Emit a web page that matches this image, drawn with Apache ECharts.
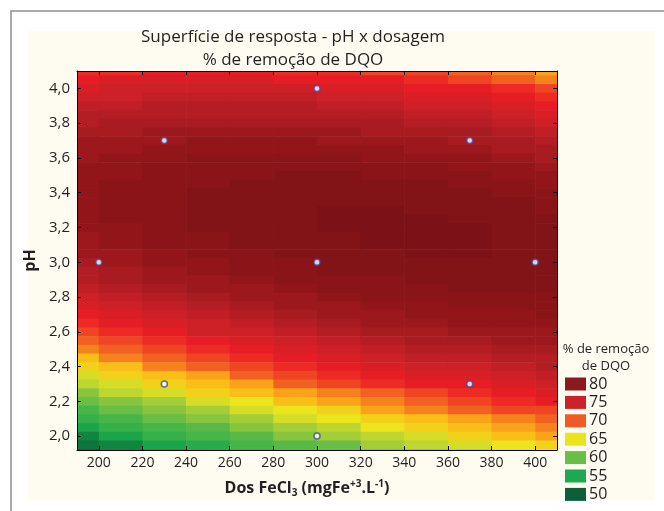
<!DOCTYPE html>
<html>
<head>
<meta charset="utf-8">
<script src="https://cdn.jsdelivr.net/npm/echarts@6/dist/echarts.min.js"></script>
<style>
html,body{margin:0;padding:0;background:#ffffff;}
#chart{width:664px;height:511px;}
</style>
</head>
<body>
<div id="chart"></div>
<script>
// ---- data ----
const doseColumns = [190, 210, 230, 250, 270, 290, 310, 330, 350, 370, 390, 410];
const phRows = [4.10, 4.05, 4.00, 3.95, 3.90, 3.85, 3.80, 3.75, 3.70, 3.65, 3.60, 3.55, 3.50, 3.45, 3.40,
                3.35, 3.30, 3.25, 3.20, 3.15, 3.10, 3.05, 3.00, 2.95, 2.90, 2.85, 2.80, 2.75, 2.70, 2.65,
                2.60, 2.55, 2.50, 2.45, 2.40, 2.35, 2.30, 2.25, 2.20, 2.15, 2.10, 2.05, 2.00, 1.95, 1.90];
// % de remoção de DQO, one array per dose column, values listed along phRows
const removal190 = [72,73,74,75,76, 77,77,78,79,79, 79,80,80,80,80, 80,80,80,80,79, 79,79,78,77,77, 76,75,74,73,72, 71,70,69,67,66, 64,63,61,60,58, 57,55,53,52,50];
const removal210 = [72,74,75,75,76, 77,78,78,79,79, 80,80,80,81,81, 81,81,81,80,80, 80,79,79,78,78, 77,76,75,74,73, 72,71,70,69,67, 66,64,63,61,60, 58,57,55,53,52];
const removal230 = [73,74,75,76,77, 77,78,79,79,80, 80,81,81,81,81, 81,81,81,81,81, 81,80,80,79,79, 78,77,76,75,74, 73,72,71,70,69, 67,66,64,62,61, 60,58,57,55,53];
const removal250 = [73,74,75,76,77, 77,78,79,80,80, 81,81,81,81,82, 82,82,82,82,81, 81,81,80,80,79, 79,78,77,76,75, 75,73,72,71,70, 68,67,66,64,62, 61,59,58,56,55];
const removal270 = [73,74,75,76,77, 77,78,79,80,80, 81,81,81,82,82, 82,82,82,82,82, 82,81,81,81,80, 79,79,78,77,76, 75,74,73,72,71, 70,68,67,65,64, 62,61,59,58,56];
const removal290 = [72,73,75,76,77, 77,78,79,80,80, 81,81,82,82,82, 82,82,82,82,82, 82,82,81,81,81, 80,79,79,78,77, 76,75,74,73,72, 71,70,68,67,65, 64,62,61,59,58];
const removal310 = [72,73,74,75,76, 77,78,79,79,80, 81,81,82,82,82, 82,83,83,83,82, 82,82,82,82,81, 81,80,79,79,78, 77,76,75,74,73, 72,71,69,68,66, 65,63,62,60,59];
const removal330 = [71,73,74,75,76, 77,78,78,79,80, 80,81,81,82,82, 82,83,83,83,83, 83,82,82,82,81, 81,81,80,79,79, 78,77,76,75,74, 73,72,70,69,68, 66,65,63,62,60];
const removal350 = [71,72,73,74,75, 76,77,78,79,79, 80,81,81,82,82, 82,82,83,83,83, 83,83,82,82,82, 81,81,80,80,79, 78,78,77,76,75, 74,73,71,70,69, 67,66,64,63,61];
const removal370 = [70,71,73,74,75, 76,77,78,78,79, 80,80,81,81,82, 82,82,82,83,83, 83,83,82,82,82, 82,81,81,80,80, 79,78,77,76,75, 74,73,72,71,70, 68,67,66,64,62];
const removal390 = [69,70,72,73,74, 75,76,77,78,78, 79,80,80,81,81, 82,82,82,82,82, 82,82,82,82,82, 82,81,81,80,80, 79,79,78,77,76, 75,74,73,72,71, 69,68,67,65,64];
const removal410 = [68,69,71,72,73, 74,75,76,77,78, 78,79,80,80,81, 81,81,82,82,82, 82,82,82,82,82, 82,81,81,81,80, 79,79,78,77,77, 76,75,74,73,71, 70,69,68,66,65];
const removalGrid = [removal190, removal210, removal230, removal250, removal270, removal290,
                     removal310, removal330, removal350, removal370, removal390, removal410];

// experimental design points
const designDose = [200, 230, 230, 300, 300, 300, 370, 370, 400];
const designPH   = [3.0, 3.7, 2.3, 4.0, 3.0, 2.0, 3.7, 2.3, 3.0];

// ticks and legend
const xTicks = [200, 220, 240, 260, 280, 300, 320, 340, 360, 380, 400];
const yTicks = [2.0, 2.2, 2.4, 2.6, 2.8, 3.0, 3.2, 3.4, 3.6, 3.8, 4.0];
const legendLevels = [50, 55, 60, 65, 70, 75, 80];

// ---- styles ----
const FONT = '"Open Sans", "Noto Sans", sans-serif';
const TXT = '#231f20';
const CELL_W = 20, CELL_H = 0.05;
const surfaceColors = ['#0b5c34', '#0e7d3e', '#1aa54a', '#3db449', '#6abd45', '#b3d235', '#ece51e',
                       '#fcb415', '#f26022', '#ec1c24', '#cd2027', '#ae1c23', '#921619', '#7e1317', '#761015'];
const legendColors = ['#0d5f38', '#1ea84f', '#6cbd45', '#eae31e', '#f05a28', '#cc2229', '#8b1a1e'];

const cells = [];
doseColumns.forEach(function (dose, i) {
  phRows.forEach(function (ph, j) {
    cells.push([dose, ph, removalGrid[i][j]]);
  });
});
const points = designDose.map(function (d, i) { return [d, designPH[i]]; });

const chart = echarts.init(document.getElementById('chart'), null, {renderer: 'canvas'});

const baseAxis = {
  type: 'value',
  z: 10,
  axisLine: {show: true, onZero: false, lineStyle: {color: '#000000', width: 1}},
  splitLine: {show: false}
};
function centerText(x, y, text, size) {
  return {type: 'text', x: x, y: y,
    style: {text: text, fill: TXT, fontSize: size, fontFamily: FONT,
            align: 'center', verticalAlign: 'middle', textAlign: 'center', textVerticalAlign: 'middle'}};
}

chart.setOption({
  backgroundColor: '#ffffff',
  animation: false,
  graphic: [
    {type: 'rect', z: -20, shape: {x: 11, y: 11, width: 720, height: 620},
     style: {fill: '#ffffff', stroke: '#8f8f8f', lineWidth: 1.5}},
    {type: 'rect', z: -19, shape: {x: 28, y: 31, width: 627, height: 469},
     style: {fill: '#fefbf1'}},
    centerText(293, 37, 'Superfície de resposta - pH x dosagem', 17),
    centerText(293, 60, '% de remoção de DQO', 17),
    centerText(606, 349, '% de remoção', 13),
    centerText(606, 366, 'de DQO', 13)
  ],
  grid: {left: 77, right: 107, top: 71, bottom: 61, containLabel: false},
  xAxis: [
    Object.assign({}, baseAxis, {
      position: 'bottom', min: 190, max: 410,
      axisTick: {show: true, inside: true, length: 4, customValues: xTicks, lineStyle: {color: '#000'}},
      axisLabel: {show: true, customValues: xTicks, margin: 6, color: TXT, fontSize: 14, fontFamily: FONT},
      name: '{b|Dos FeCl}{sub|3}{b| (mgFe}{sup|+3}{b|.L}{sup|-1}{b|)}',
      nameLocation: 'middle', nameGap: 28,
      nameTextStyle: {
        color: TXT, fontFamily: FONT, fontWeight: 'bold', fontSize: 16, padding: [0, 20, 0, 0],
        rich: {
          b: {fontFamily: FONT, fontWeight: 'bold', fontSize: 16, color: TXT, verticalAlign: 'middle'},
          sub: {fontFamily: FONT, fontWeight: 'bold', fontSize: 10, color: TXT, verticalAlign: 'middle', padding: [10, 0, 0, 0]},
          sup: {fontFamily: FONT, fontWeight: 'bold', fontSize: 10, color: TXT, verticalAlign: 'middle', padding: [0, 0, 8, 0]}
        }
      }
    }),
    Object.assign({}, baseAxis, {
      position: 'top', min: 190, max: 410,
      axisTick: {show: true, inside: true, length: 4, customValues: xTicks, lineStyle: {color: '#000'}},
      axisLabel: {show: false}
    })
  ],
  yAxis: [
    Object.assign({}, baseAxis, {
      position: 'left', min: 1.92, max: 4.1,
      axisTick: {show: true, inside: true, length: 4, customValues: yTicks, lineStyle: {color: '#000'}},
      axisLabel: {show: true, customValues: yTicks, margin: 7, color: TXT, fontSize: 15, fontFamily: FONT,
                  formatter: function (v) { return Number(v).toFixed(1).replace('.', ','); }},
      name: 'pH', nameLocation: 'middle', nameRotate: 90, nameGap: 29,
      nameTextStyle: {color: TXT, fontFamily: FONT, fontWeight: 'bold', fontSize: 16}
    }),
    Object.assign({}, baseAxis, {
      position: 'right', min: 1.92, max: 4.1,
      axisTick: {show: true, inside: true, length: 4, customValues: yTicks, lineStyle: {color: '#000'}},
      axisLabel: {show: false}
    })
  ],
  visualMap: [
    {
      type: 'continuous', show: false, seriesIndex: 0, dimension: 2,
      min: 50, max: 85, inRange: {color: surfaceColors}
    },
    {
      type: 'piecewise', show: true, seriesIndex: [], selectedMode: false,
      orient: 'vertical', left: 565, top: 376, padding: 0,
      itemWidth: 21, itemHeight: 13, itemGap: 2.4,
      itemSymbol: 'rect', align: 'left', textGap: 3,
      textStyle: {color: TXT, fontSize: 16, lineHeight: 13, fontFamily: FONT},
      pieces: legendLevels.map(function (v, i) { return {value: v, label: String(v), color: legendColors[i]}; })
    }
  ],
  series: [
    {
      type: 'custom',
      name: '% de remoção de DQO',
      xAxisIndex: 0, yAxisIndex: 0,
      z: 1,
      encode: {x: 0, y: 1},
      data: cells,
      renderItem: function (params, api) {
        const x = api.value(0), y = api.value(1);
        const a = api.coord([x - CELL_W / 2, y + CELL_H / 2]);
        const b = api.coord([x + CELL_W / 2, y - CELL_H / 2]);
        const cs = params.coordSys;
        const r = echarts.graphic.clipRectByRect(
          {x: a[0], y: a[1], width: b[0] - a[0] + 0.6, height: b[1] - a[1] + 0.6},
          {x: cs.x, y: cs.y, width: cs.width, height: cs.height});
        if (!r) { return; }
        return {type: 'rect', shape: r, style: {fill: api.visual('color'), stroke: null}};
      }
    },
    {
      type: 'scatter',
      xAxisIndex: 0, yAxisIndex: 0,
      z: 20,
      symbol: 'circle', symbolSize: 6,
      itemStyle: {color: '#ffffff', borderColor: '#3d4aa6', borderWidth: 1.5},
      data: points
    }
  ]
});
</script>
</body>
</html>
